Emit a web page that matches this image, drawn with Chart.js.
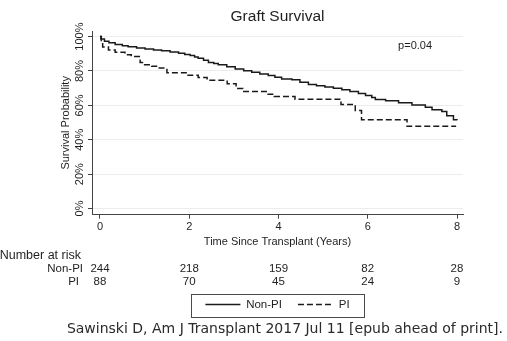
<!DOCTYPE html>
<html>
<head>
<meta charset="utf-8">
<script src="https://cdn.jsdelivr.net/npm/chart.js@4.4.1/dist/chart.umd.min.js"></script>
<style>
  html, body { margin: 0; padding: 0; background: #ffffff; }
  #wrap { width: 507px; height: 341px; }
</style>
</head>
<body>
<div id="wrap"><canvas id="c" width="507" height="341"></canvas></div>
<script>
// ---- data ----
const xTickYears = [0, 2, 4, 6, 8];
const yTickPercents = [0, 20, 40, 60, 80, 100];
const riskRowLabels = ['Non-PI', 'PI'];
const riskNonPI = [244, 218, 159, 82, 28];
const riskPI = [88, 70, 45, 24, 9];

const nonPiTime = [0, 0.02, 0.1, 0.2, 0.34, 0.5, 0.63, 0.82, 1.01, 1.2, 1.38, 1.57, 1.76, 1.9, 2.02, 2.12, 2.2, 2.32, 2.43, 2.55, 2.65, 2.84, 3.03, 3.22, 3.4, 3.58, 3.77, 3.92, 4.07, 4.3, 4.48, 4.67, 4.85, 5.04, 5.23, 5.42, 5.6, 5.79, 5.95, 6.09, 6.17, 6.4, 6.69, 6.99, 7.29, 7.44, 7.66, 7.77, 7.92, 8.0];
const nonPiSurv = [100, 98.6, 97.3, 96.4, 95.4, 94.7, 94.1, 93.4, 92.8, 92.2, 91.7, 91.0, 90.3, 89.6, 89.0, 88.2, 87.4, 86.2, 85.0, 84.3, 83.7, 82.4, 81.1, 80.2, 79.3, 78.3, 77.4, 76.4, 75.4, 74.9, 73.5, 72.2, 71.4, 70.7, 69.9, 69.1, 68.0, 66.9, 65.8, 64.6, 63.4, 62.7, 61.5, 60.2, 58.9, 57.4, 56.4, 53.9, 51.7, 51.4];

const piTime = [0, 0.03, 0.06, 0.19, 0.34, 0.56, 0.7, 0.9, 1.0, 1.16, 1.3, 1.5, 1.95, 2.2, 2.4, 2.85, 3.05, 3.2, 3.75, 3.9, 4.37, 5.4, 5.72, 5.86, 6.88, 7.98];
const piSurv = [100, 96.5, 94.0, 92.2, 90.9, 89.4, 88.4, 85.0, 83.7, 82.7, 81.7, 79.0, 77.5, 76.2, 74.6, 72.6, 69.8, 68.0, 66.5, 65.1, 63.6, 60.5, 57.0, 51.6, 47.8, 47.8];

const seriesNames = ['Non-PI', 'PI'];
const seriesDash = [[], [6, 3]];
const pValueText = 'p=0.04';
const pValuePos = [6.68, 94.3];

// ---- styling ----
const FONT = '"Liberation Sans", Arial, Helvetica, sans-serif';
const TXT = '#1f1f1f';
Chart.defaults.font.family = FONT;
Chart.defaults.color = TXT;

const toPoints = (xs, ys) => xs.map((x, i) => ({ x: x, y: ys[i] }));

const extras = {
  id: 'extras',
  afterDraw(chart) {
    const ctx = chart.ctx;
    const xs = chart.scales.x, ys = chart.scales.y;
    ctx.save();
    ctx.fillStyle = TXT;
    // rotated y tick labels
    ctx.font = '11px ' + FONT;
    yTickPercents.forEach(v => {
      const py = ys.getPixelForValue(v);
      ctx.save();
      ctx.translate(80, py);
      ctx.rotate(-Math.PI / 2);
      ctx.textAlign = 'center';
      ctx.textBaseline = 'middle';
      ctx.fillText(v + '%', 0, 0);
      ctx.restore();
    });
    // p value
    ctx.textAlign = 'left';
    ctx.textBaseline = 'middle';
    ctx.fillText(pValueText, xs.getPixelForValue(pValuePos[0]), ys.getPixelForValue(pValuePos[1]));
    // number at risk table
    ctx.font = '12.5px ' + FONT;
    ctx.textAlign = 'right';
    ctx.fillText('Number at risk', 81, 256);
    ctx.font = '11.5px ' + FONT;
    ctx.fillText(riskRowLabels[0], 83, 269);
    ctx.fillText(riskRowLabels[1], 79, 281.5);
    ctx.textAlign = 'center';
    xTickYears.forEach((t, i) => {
      const px = xs.getPixelForValue(t);
      ctx.fillText(String(riskNonPI[i]), px, 269);
      ctx.fillText(String(riskPI[i]), px, 281.5);
    });
    // legend border
    const hb = chart.legend && chart.legend.legendHitBoxes;
    if (hb && hb.length) {
      const first = hb[0], last = hb[hb.length - 1];
      const l = first.left - 14, r = last.left + last.width + 15;
      const t = first.top - 5, b = first.top + first.height + 6;
      ctx.strokeStyle = '#4a4a4a';
      ctx.lineWidth = 1;
      ctx.strokeRect(Math.round(l) + 0.5, Math.round(t) + 0.5, Math.round(r - l), Math.round(b - t));
    }
    ctx.restore();
  }
};

new Chart(document.getElementById('c'), {
  type: 'line',
  data: {
    datasets: [
      {
        label: seriesNames[0],
        data: toPoints(nonPiTime, nonPiSurv),
        borderColor: '#1a1a1a',
        backgroundColor: '#1a1a1a',
        borderWidth: 1.5,
        borderDash: seriesDash[0],
        stepped: 'before',
        pointRadius: 0,
        fill: false
      },
      {
        label: seriesNames[1],
        data: toPoints(piTime, piSurv),
        borderColor: '#1a1a1a',
        backgroundColor: '#1a1a1a',
        borderWidth: 1.5,
        borderDash: seriesDash[1],
        stepped: 'before',
        pointRadius: 0,
        fill: false
      }
    ]
  },
  options: {
    responsive: false,
    animation: false,
    devicePixelRatio: 1,
    layout: { padding: { left: 52, right: 4, top: 0, bottom: 0 } },
    plugins: {
      title: {
        display: true,
        text: 'Graft Survival',
        color: TXT,
        font: { size: 15.5, weight: 'normal', family: FONT },
        padding: { top: 7.7, bottom: 4.7 }
      },
      subtitle: {
        display: true,
        position: 'bottom',
        align: 'end',
        text: 'Sawinski D, Am J Transplant 2017 Jul 11 [epub ahead of print].',
        color: '#2a2a2a',
        font: { size: 14, family: '"DejaVu Sans", sans-serif' },
        padding: { top: 1, bottom: 3 }
      },
      legend: {
        display: true,
        position: 'bottom',
        labels: {
          usePointStyle: true,
          pointStyle: 'line',
          pointStyleWidth: 35,
          color: TXT,
          font: { size: 11.5, family: FONT },
          padding: 16,
          generateLabels: chart => {
            const items = Chart.defaults.plugins.legend.labels.generateLabels(chart);
            items.forEach(it => {
              const ds = chart.data.datasets[it.datasetIndex];
              it.lineDash = ds.borderDash || [];
              it.lineWidth = ds.borderWidth;
              it.strokeStyle = ds.borderColor;
            });
            return items;
          }
        }
      },
      tooltip: { enabled: false }
    },
    scales: {
      x: {
        type: 'linear',
        min: -0.179,
        max: 8.134,
        afterBuildTicks: s => { s.ticks = xTickYears.map(v => ({ value: v })); },
        grid: { display: true, drawOnChartArea: false, drawTicks: true, tickLength: 4, tickColor: '#444' },
        border: { display: true, color: '#444', width: 1 },
        ticks: { color: TXT, padding: 3, font: { size: 11, lineHeight: 1 }, maxRotation: 0, minRotation: 0, callback: v => String(v) },
        title: {
          display: true,
          text: 'Time Since Transplant (Years)',
          color: TXT,
          font: { size: 11, lineHeight: 1.2 },
          padding: { top: 0, bottom: 33.8 }
        }
      },
      y: {
        type: 'linear',
        position: 'left',
        min: -3.6,
        max: 103.26,
        afterBuildTicks: s => { s.ticks = yTickPercents.map(v => ({ value: v })); },
        afterFit: s => { s.width = 40; },
        grid: { display: true, drawOnChartArea: true, drawTicks: true, tickLength: 4, color: '#ececec', tickColor: '#444', lineWidth: 1 },
        border: { display: true, color: '#444', width: 1 },
        ticks: { display: false },
        title: {
          display: true,
          text: 'Survival Probability',
          color: TXT,
          font: { size: 11, lineHeight: 1.2 },
          padding: { top: 7.4, bottom: 0 }
        }
      },
      y2: {
        type: 'linear',
        position: 'right',
        display: true,
        afterFit: s => { s.width = 40; },
        grid: { display: false },
        border: { display: false },
        ticks: { display: false }
      }
    }
  },
  plugins: [extras]
});
</script>
</body>
</html>
